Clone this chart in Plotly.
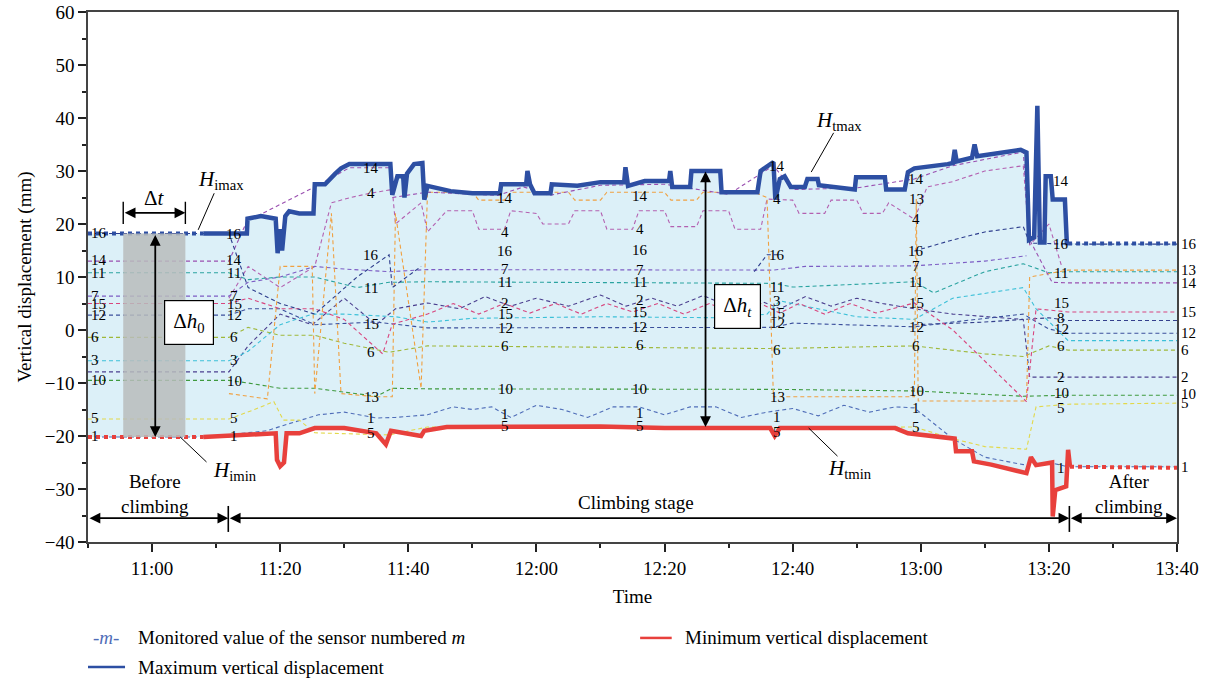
import plotly.graph_objects as go
import pandas as pd

BASE = pd.Timestamp("2021-01-01 10:50:00")


def T(mins):
    return [BASE + pd.Timedelta(minutes=m) for m in mins]


def T1(m):
    return BASE + pd.Timedelta(minutes=m)


# ---------------- data (time in minutes after 10:50) ----------------
x_tick_min = [10, 30, 50, 70, 90, 110, 130, 150, 170]
x_tick_labels = ["11:00", "11:20", "11:40", "12:00", "12:20", "12:40", "13:00", "13:20", "13:40"]

max_before_t = [0, 18]
max_before_v = [18.2, 18.2]
max_climb_t = [18, 24.8, 24.9, 27, 29.3, 29.6, 30, 30.3, 30.8, 31.4, 33, 35.2, 35.4, 37, 38.6, 39.5, 40.8,
               47.2, 47.5, 48.3, 49.2, 49.4, 49.8, 50.9, 52.2, 52.5, 53, 56.6, 60, 64.3, 64.5, 68.4, 68.6,
               69, 69.7, 72.2, 72.4, 76.4, 80, 83.7, 83.9, 84.3, 86.9, 90.7, 90.9, 91.2, 94, 94.2, 98.7,
               98.9, 104.5, 105, 107, 107.3, 108, 108.75, 109.7, 111.9, 112.3, 113.9, 114.1, 119.7, 119.9,
               124.4, 124.6, 127.5, 128, 129, 134.2, 135.0, 135.3, 135.6, 138, 138.4, 138.8, 145.6, 146.5,
               146.9, 147.7, 148.2, 148.6, 149.3, 149.5, 150.3, 150.6, 152.5, 152.8, 153]
max_climb_v = [18.2, 18.2, 21, 21.5, 21, 14.5, 19, 15, 21.5, 22.4, 22, 22, 27.5, 27.5, 29.5, 30.5, 31.3,
               31.3, 25.5, 29, 29, 25, 29.5, 31.3, 31.5, 24.6, 27.2, 26.2, 25.8, 25.8, 27.5, 27.5, 30,
               27.5, 25.8, 25.8, 27.5, 27.2, 27.9, 27.9, 30.7, 27.2, 28.1, 28.1, 30, 27, 27, 30, 30,
               26, 26, 30, 31.7, 24.6, 28.5, 29, 27, 27, 28.5, 28.5, 27.3, 26.5, 28.8,
               28.8, 26.5, 26.5, 29.8, 30.5, 31.3, 31.5, 34, 31.8, 32.5, 35, 32.8, 34, 33.5,
               17, 17.5, 42.3, 16.5, 16.5, 29, 29, 24.6, 24.6, 16.4, 16.4]
max_after_t = [153, 170]
max_after_v = [16.3, 16.3]

min_before_t = [0, 18]
min_before_v = [-20.2, -20.2]
min_climb_t = [18, 24, 29.3, 29.5, 30, 30.6, 31, 33, 35.4, 40, 45, 46.5, 47.3, 52, 52.5, 56, 70, 80, 90,
               100, 106.5, 107.2, 108, 120, 126, 128, 134, 135.3, 135.5, 138, 138.3, 141, 146.5, 147.2,
               148, 150.5, 150.6, 151, 152.7, 153, 153.3]
min_climb_v = [-20.2, -19.8, -19.5, -24.5, -25.7, -25, -19.5, -19.5, -18.5, -18.5, -19.5, -21.6, -19, -20,
               -19, -18.3, -18.3, -18.2, -18.5, -18.5, -18.5, -20, -18.5, -18.5, -18.5, -19.5, -20.2,
               -20.5, -22.9, -22.9, -24.8, -25.4, -27, -24, -25.5, -25, -35.2, -30.2, -29.5, -22.6, -25.8]
min_after_t = [153.3, 170]
min_after_v = [-25.8, -26]

# sensors
s1_t = [0, 22, 24, 28, 30.5, 36, 40, 45, 48, 53, 57, 60, 63, 66, 70, 74, 78, 82, 86, 90, 94, 98, 102, 106,
        110, 114, 118, 122, 126, 129, 135, 140, 146, 150, 153, 170]
s1_v = [-20.2, -20.2, -19.5, -19, -18, -16, -15.5, -16.6, -16.5, -16, -14.5, -15, -14.5, -16.5, -14.2, -15,
        -16.5, -14.5, -14.5, -16, -14.5, -14.5, -16.5, -15.5, -14.8, -16.2, -14.2, -15.5, -14.5, -14.7,
        -20.5, -24, -25.4, -25, -25.8, -25.8]
s2_t = [0, 22, 25, 30, 35, 40, 45, 48, 53, 58, 62, 66, 70, 75, 80, 84, 88, 92, 96, 100, 104, 108, 112, 116,
        120, 124, 129, 135, 146, 147, 153, 170]
s2_v = [-7.9, -7.9, -3, 3, 1, 6, 1, 4, 5.1, 4, 6.3, 4.5, 6, 4.5, 6.6, 4.5, 6, 4.5, 6.5, 4.5, 6, 4, 6.3, 4.5,
        6, 5, 4, 3, 2, -8.9, -8.9, -8.9]
s3_t = [0, 22, 25, 30, 35, 40, 48, 53, 60, 80, 100, 106, 108, 120, 129, 135, 146, 148, 153, 170]
s3_v = [-5.8, -5.8, -4, 1, 3, 3, 2.5, 1.5, 2.2, 2.5, 2.3, 3, 5.5, 2.5, 2, 6, 8, 4, -2, -2]
s4_t = [22, 25, 30, 35.4, 38, 41, 44, 47.5, 48, 52, 53, 56, 60, 61, 65, 66, 70, 71, 75, 76, 80, 81, 85, 86,
        90, 91, 95, 96, 100, 101, 105, 106, 110, 111, 115, 116, 120, 121, 124, 125, 129, 131, 135, 140,
        146, 147, 150, 152]
s4_v = [6, 12, 8, 12, 24, 25, 25.8, 26.5, 20, 24, 18.5, 22.5, 22.5, 19, 19, 22.5, 22, 20, 20, 22.5, 22.5,
        19, 19, 22.5, 22.5, 19.5, 19.5, 22.5, 22.5, 19, 19, 24.7, 24.5, 22, 22, 24.5, 24.5, 22, 22, 24,
        20.9, 27, 28, 30, 31, 16, 20, 12]
s5_t = [0, 22, 26, 29, 30.5, 33, 35.4, 47, 53, 107, 129, 135, 140, 146.5, 148, 153, 170]
s5_v = [-16.8, -16.8, -15, -13.5, -17, -17, -19.4, -19.8, -18.3, -18.5, -18.3, -20.5, -22, -22.5, -14.5,
        -14, -13.8]
s6_t = [0, 22, 25, 30, 35.4, 40, 47, 53, 107, 129, 140, 146, 150, 153, 170]
s6_v = [-1.4, -1.4, 0.5, -1, -1, -2.5, -4.2, -3, -3.5, -3, -4.5, -5, -3, -3.8, -3.8]
s7_t = [0, 22, 25, 30, 35.4, 40, 47, 53, 107, 112, 129, 140, 146.5]
s7_v = [6.4, 6.4, 9, 10, 12, 11.5, 11, 11.4, 11.3, 12, 12.1, 13, 14]
s8_t = [129, 140, 146, 150, 153, 170]
s8_v = [1, 1.5, 2, 2.3, 1.8, 1.8]
s10_t = [0, 22, 25, 30, 35.4, 45, 47.5, 53, 107, 129, 146, 153, 170]
s10_v = [-9.5, -9.5, -10, -11, -11, -12.5, -11, -11.1, -11.2, -11.5, -12.5, -12.3, -12.3]
s11_t = [0, 22, 25, 30, 35.4, 42, 47, 53, 107, 110, 129, 132, 140, 146, 150, 153, 170]
s11_v = [10.8, 10.8, 9.5, 10, 10, 8, 9, 9.1, 8.8, 8.1, 9.1, 7, 11, 12.5, 10.8, 11, 11]
s12_t = [0, 22, 25, 30, 35.4, 45, 53, 107, 110, 129, 135, 146, 150, 153, 170]
s12_v = [2.8, 2.8, 4, 4, 1, 1.5, 0.4, 0.5, 1.3, 0.6, 1.5, 3, 0.2, -0.6, -0.6]
s13_t = [22, 28, 30, 35, 35.4, 38, 39.5, 45, 47.5, 48, 52, 53, 60, 61, 65, 66, 75, 76, 80, 81, 90, 91, 95,
         96, 104, 106, 107, 129, 129.3, 129.6, 146.5, 147, 153, 170]
s13_v = [-12, -13, 12, 12, -12, 22, -12, -12.6, -12.6, 22, -11, 26, 26, 24.5, 24.5, 26, 26, 24.5, 24.5,
         26, 26, 24.5, 24.5, 26, 26, 25, -12.6, -12.6, 24.7, -13.4, -13.4, 10, 11.3, 11.3]
s14_t = [0, 22, 24.8, 35.4, 40.8, 47.2, 47.5, 53, 64, 68, 72, 80, 90, 100, 107, 110, 120, 129, 135, 146, 147,
         150.5, 153, 170]
s14_v = [13, 13, 20.5, 27, 30.6, 30.6, 25, 26, 25.4, 27, 25.4, 27.3, 27.5, 25.6, 31, 26.5, 26.8, 28.5, 31,
         33.6, 17, 9, 8.9, 8.9]
s15_t = [0, 22, 25, 30, 35.4, 40, 46, 47.5, 53, 57, 61, 65, 69, 73, 77, 81, 85, 89, 93, 97, 101, 105, 108,
         111, 115, 119, 123, 129, 135, 141, 146.5, 148, 153, 170]
s15_v = [5, 5, 6, 4, 4, 2, -4.5, 1.1, 3, 5, 3, 5, 3.2, 5, 3, 5, 3.4, 5, 3, 5, 3, 5, 3.2, 5, 3, 5, 3.2, 5.1,
         0, -7, -13.5, 4, 3.4, 3.4]
s16_t = [0, 22, 25, 30, 35.4, 42, 47, 47.5, 52, 53, 104, 106, 108, 108.5, 129, 135, 140, 146, 147, 153, 170]
s16_v = [18.2, 18.2, 8, 5, 3, 10, 14.2, 8, 12, None, 11, 14.2, 14.2, None, 14.9, 17, 18.5, 19.5, 16.4,
         16.2, 16.2]

sensor_names = ["1", "2", "3", "4", "5", "6", "7", "8", "10", "11", "12", "13", "14", "15", "16"]
sensor_colors = ["#4f6db8", "#4b3f8f", "#3cc0d8", "#b360b0", "#e2d84a", "#9fb83a", "#7c5cc4", "#34408c",
                 "#3f9a3f", "#2aa3a0", "#3b4f9c", "#f0a040", "#9a4fb0", "#d8457e", "#2c3c8c"]
sensor_series = [(s1_t, s1_v), (s2_t, s2_v), (s3_t, s3_v), (s4_t, s4_v), (s5_t, s5_v), (s6_t, s6_v),
                 (s7_t, s7_v), (s8_t, s8_v), (s10_t, s10_v), (s11_t, s11_v), (s12_t, s12_v),
                 (s13_t, s13_v), (s14_t, s14_v), (s15_t, s15_v), (s16_t, s16_v)]

# sensor number labels, by column
label_col_t = [0.2, 22.8, 44.2, 65.1, 86.1, 107.6, 129.3, 151.9]
label_col_text = [
    ["16", "14", "11", "7", "15", "12", "6", "3", "10", "5", "1"],
    ["16", "14", "11", "7", "15", "12", "6", "3", "10", "5", "1"],
    ["14", "4", "16", "11", "15", "6", "13", "1", "5"],
    ["14", "4", "16", "7", "11", "2", "15", "12", "6", "10", "1", "5"],
    ["14", "4", "16", "7", "11", "2", "15", "12", "6", "10", "1", "5"],
    ["14", "4", "16", "11", "3", "15", "12", "6", "13", "1", "5"],
    ["14", "13", "4", "16", "7", "11", "15", "12", "6", "10", "1", "5"],
    ["14", "16", "11", "15", "8", "12", "6", "2", "10", "5", "1"],
]
label_col_v = [
    [18.3, 13.2, 10.8, 6.4, 5.0, 2.8, -1.3, -5.7, -9.4, -16.6, -20.0],
    [18.1, 13.2, 10.8, 6.4, 5.0, 2.8, -1.3, -5.7, -9.6, -16.6, -20.0],
    [30.6, 25.8, 14.2, 7.9, 1.1, -4.2, -12.6, -16.6, -19.4],
    [24.9, 18.5, 14.9, 11.5, 9.1, 5.1, 3.0, 0.4, -3.0, -11.1, -15.8, -18.1],
    [25.3, 19.0, 15.1, 11.3, 9.1, 5.6, 3.4, 0.5, -2.8, -11.1, -15.7, -18.1],
    [31.0, 24.7, 14.2, 8.1, 5.5, 3.2, 1.3, -3.8, -12.6, -16.4, -19.2],
    [28.5, 24.7, 20.9, 14.9, 12.1, 9.1, 5.1, 0.6, -3.0, -11.5, -14.7, -18.3],
    [28.1, 16.2, 10.8, 5.1, 2.3, 0.2, -3.0, -8.9, -11.9, -14.7, -26.0],
]
right_label_text = ["16", "13", "14", "15", "12", "6", "2", "10", "5", "1"]
right_label_v = [16.2, 11.3, 8.9, 3.4, -0.6, -3.8, -8.9, -12.1, -13.8, -25.8]

SERIF = "Liberation Serif, Times New Roman, serif"
BLUE = "#2d4fa3"
RED = "#e8403c"
FILL = "#dcf0f8"

fig = go.Figure()

# envelope fill (lower boundary, then upper boundary filled to it)
lower_t = min_before_t + min_climb_t + min_after_t
lower_v = min_before_v + min_climb_v + min_after_v
upper_t = max_before_t + max_climb_t + max_after_t
upper_v = max_before_v + max_climb_v + max_after_v
fig.add_trace(go.Scatter(x=T(lower_t), y=lower_v, mode="lines", line=dict(width=0, color=FILL),
                         showlegend=False, hoverinfo="skip"))
fig.add_trace(go.Scatter(x=T(upper_t), y=upper_v, mode="lines", line=dict(width=0, color=FILL),
                         fill="tonexty", fillcolor=FILL, showlegend=False, hoverinfo="skip"))

# sensor lines
for name, col, (st, sv) in zip(sensor_names, sensor_colors, sensor_series):
    xs = [T1(t) if v is not None else None for t, v in zip(st, sv)]
    fig.add_trace(go.Scatter(x=xs, y=sv, mode="lines", connectgaps=False,
                             line=dict(color=col, width=1.1, dash="4px,3px"),
                             name="sensor " + name, showlegend=False))

# gray band (time window)
fig.add_shape(type="rect", xref="x", yref="y", x0=T1(5.5), x1=T1(15.2), y0=-20.2, y1=18.2,
              fillcolor="rgba(185,188,188,0.85)", line=dict(width=0), layer="above")

# max / min lines
fig.add_trace(go.Scatter(x=T(max_before_t), y=max_before_v, mode="lines",
                         line=dict(color=BLUE, width=4, dash="dot"), showlegend=False))
fig.add_trace(go.Scatter(x=T(max_climb_t), y=max_climb_v, mode="lines",
                         line=dict(color=BLUE, width=4.5), showlegend=False))
fig.add_trace(go.Scatter(x=T(max_after_t), y=max_after_v, mode="lines",
                         line=dict(color=BLUE, width=4, dash="dot"), showlegend=False))
fig.add_trace(go.Scatter(x=T(min_before_t), y=min_before_v, mode="lines",
                         line=dict(color=RED, width=4, dash="dot"), showlegend=False))
fig.add_trace(go.Scatter(x=T(min_climb_t), y=min_climb_v, mode="lines",
                         line=dict(color=RED, width=4.5), showlegend=False))
fig.add_trace(go.Scatter(x=T(min_after_t), y=min_after_v, mode="lines",
                         line=dict(color=RED, width=4, dash="dot"), showlegend=False))

annotations = []
# sensor labels
for ci, (ct, texts, vals) in enumerate(zip(label_col_t, label_col_text, label_col_v)):
    for tx, v in zip(texts, vals):
        annotations.append(dict(x=T1(ct), y=v, xref="x", yref="y", text=tx, showarrow=False,
                                xanchor="left" if ci == 0 else "center", yanchor="middle",
                                font=dict(family=SERIF, size=15, color="black")))
for tx, v in zip(right_label_text, right_label_v):
    annotations.append(dict(x=1.002, y=v, xref="paper", yref="y", text=tx, showarrow=False,
                            xanchor="left", yanchor="middle",
                            font=dict(family=SERIF, size=15, color="black")))


def darrow(t0, v0, t1, v1):
    return dict(x=T1(t1), y=v1, ax=T1(t0), ay=v0, xref="x", yref="y", axref="x", ayref="y",
                text="", showarrow=True, arrowhead=2, arrowside="end+start", arrowsize=1.2,
                arrowwidth=1.8, arrowcolor="black", standoff=0, startstandoff=0)


annotations += [
    darrow(5.5, 22.1, 15.2, 22.1),          # delta t
    darrow(10.5, 18.2, 10.5, -20.2),        # delta h0
    darrow(96.4, 30.2, 96.4, -18.3),        # delta ht
    darrow(0, -35.5, 21.9, -35.5),          # before climbing
    darrow(21.9, -35.5, 153.2, -35.5),      # climbing stage
    darrow(153.2, -35.5, 170, -35.5),       # after climbing
]

txt = dict(showarrow=False, xref="x", yref="y", xanchor="center", yanchor="middle")
f18 = dict(family=SERIF, size=19, color="black")
f20 = dict(family=SERIF, size=21, color="black")
annotations += [
    dict(x=T1(10.4), y=24.9, text="Δ<i>t</i>", font=f20, **txt),
    dict(x=T1(15.8), y=1.5, text="Δ<i>h</i><sub>0</sub>", bgcolor="white", bordercolor="black",
         borderwidth=1.2, borderpad=8, font=f20, **txt),
    dict(x=T1(101.4), y=4.5, text="Δ<i>h</i><sub><i>t</i></sub>", bgcolor="white", bordercolor="black",
         borderwidth=1.2, borderpad=8, font=f20, **txt),
    dict(x=T1(20.7), y=28.3, text="<i>H</i><sub>imax</sub>", font=f20, **txt),
    dict(x=T1(23.0), y=-26.6, text="<i>H</i><sub>imin</sub>", font=f20, **txt),
    dict(x=T1(117.3), y=39.4, text="<i>H</i><sub>tmax</sub>", font=f20, **txt),
    dict(x=T1(118.9), y=-26.2, text="<i>H</i><sub>tmin</sub>", font=f20, **txt),
    dict(x=T1(10.5), y=-30.9, text="Before<br>climbing", font=f18, **txt),
    dict(x=T1(85.5), y=-32.6, text="Climbing stage", font=f18, **txt),
    dict(x=T1(162.5), y=-30.9, text="After<br>climbing", font=f18, **txt),
]

# legend (manual)
leg_font = dict(family=SERIF, size=19, color="black")
leg = dict(xref="paper", yref="paper", showarrow=False, yanchor="middle")
annotations += [
    dict(x=0.0165, y=-0.181, text="-<i>m</i>-", xanchor="center",
         font=dict(family=SERIF, size=19, color="#4f6db8"), **leg),
    dict(x=0.044, y=-0.181, xanchor="left",
         text="Monitored value of the sensor numbered <i>m</i>", font=leg_font, **leg),
    dict(x=0.546, y=-0.181, xanchor="left",
         text="Minimum vertical displacement", font=leg_font, **leg),
    dict(x=0.044, y=-0.236, xanchor="left",
         text="Maximum vertical displacement", font=leg_font, **leg),
]

shapes = [
    # stage separators
    dict(type="line", xref="x", yref="y", x0=T1(21.9), x1=T1(21.9), y0=-33.2, y1=-38.1,
         line=dict(color="black", width=1.6)),
    dict(type="line", xref="x", yref="y", x0=T1(153.2), x1=T1(153.2), y0=-33.2, y1=-38.1,
         line=dict(color="black", width=1.6)),
    # delta t end ticks
    dict(type="line", xref="x", yref="y", x0=T1(5.5), x1=T1(5.5), y0=20.0, y1=24.2,
         line=dict(color="black", width=1.4)),
    dict(type="line", xref="x", yref="y", x0=T1(15.2), x1=T1(15.2), y0=20.0, y1=24.2,
         line=dict(color="black", width=1.4)),
    # leader lines
    dict(type="line", xref="x", yref="y", x0=T1(17.2), y0=18.9, x1=T1(19.7), y1=25.8,
         line=dict(color="black", width=1)),
    dict(type="line", xref="x", yref="y", x0=T1(14.4), y0=-20.2, x1=T1(18.5), y1=-24.9,
         line=dict(color="black", width=1)),
    dict(type="line", xref="x", yref="y", x0=T1(116.4), y0=37.2, x1=T1(112.9), y1=29.8,
         line=dict(color="black", width=1)),
    dict(type="line", xref="x", yref="y", x0=T1(112.5), y0=-18.5, x1=T1(117.0), y1=-23.8,
         line=dict(color="black", width=1)),
    # legend lines
    dict(type="line", xref="paper", yref="paper", x0=0.507, x1=0.536, y0=-0.181, y1=-0.181,
         line=dict(color=RED, width=2.5)),
    dict(type="line", xref="paper", yref="paper", x0=0.0, x1=0.034, y0=-0.236, y1=-0.236,
         line=dict(color=BLUE, width=2.5)),
]
for s in shapes:
    fig.add_shape(**s)

fig.update_layout(
    width=1206, height=681,
    margin=dict(l=88, r=29, t=12, b=139, autoexpand=False),
    plot_bgcolor="white", paper_bgcolor="white",
    font=dict(family=SERIF, size=18, color="black"),
    annotations=annotations,
    showlegend=False,
)
fig.update_xaxes(
    range=[T1(0), T1(170)], tickvals=T(x_tick_min), ticktext=x_tick_labels, automargin=False,
    showgrid=False, zeroline=False, showline=True, linecolor="#444", linewidth=1.5, mirror=True,
    ticks="outside", ticklen=8, tickwidth=1.5, tickcolor="#222",
    minor=dict(dtick=10 * 60 * 1000, tick0=T1(0), ticks="outside", ticklen=4, tickwidth=1.5,
               tickcolor="#222", showgrid=False),
    tickfont=dict(family=SERIF, size=19),
    title=dict(text="Time", font=dict(family=SERIF, size=19), standoff=12),
)
fig.update_yaxes(
    range=[-40, 60], dtick=10, tick0=0, automargin=False,
    showgrid=False, zeroline=False, showline=True, linecolor="#444", linewidth=1.5, mirror=True,
    ticks="outside", ticklen=8, tickwidth=1.5, tickcolor="#222",
    minor=dict(dtick=5, ticks="outside", ticklen=4, tickwidth=1.5, tickcolor="#222", showgrid=False),
    tickfont=dict(family=SERIF, size=19),
    title=dict(text="Vertical displacement (mm)", font=dict(family=SERIF, size=19), standoff=8),
)

fig.write_html("out.html", config={"displayModeBar": False},
               post_script="document.body.style.margin='0px';")
